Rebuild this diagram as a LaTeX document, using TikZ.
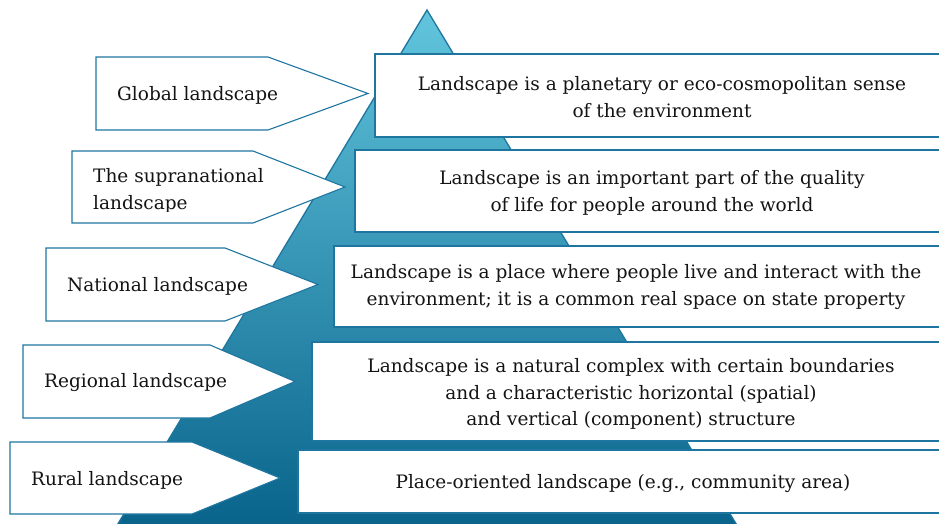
\documentclass[tikz,border=0pt]{standalone}
\usepackage{fontspec}
\setmainfont{DejaVu Serif}
\begin{document}
\begin{tikzpicture}[x=1pt,y=-1pt]
\definecolor{edgeblue}{RGB}{30,118,160}
\definecolor{topcyan}{RGB}{98,197,221}
\definecolor{botblue}{RGB}{8,98,138}
\definecolor{ink}{RGB}{20,20,20}
\tikzset{
  rbox/.style={draw=edgeblue, line width=1.4pt, fill=white},
  pentbox/.style={draw=edgeblue, line width=1.1pt, fill=white},
  ltext/.style={anchor=west, inner sep=0pt, text=ink, font=\fontsize{18.5}{26.5}\selectfont, align=left},
  rtext/.style={inner sep=0pt, text=ink, font=\fontsize{18.5}{26.5}\selectfont, align=center}
}
\useasboundingbox (0,0) rectangle (939,524);
\clip (0,0) rectangle (939,524);
% pyramid
\coordinate (apex) at (427,10);
\coordinate (bl) at (113,532);
\coordinate (br) at (741,532);
\draw[draw=edgeblue, line width=1.3pt, top color=topcyan, bottom color=botblue] (apex) -- (br) -- (bl) -- cycle;
% right boxes
\draw[rbox] (375,54) rectangle (950,137);
\draw[rbox] (355,150) rectangle (950,232);
\draw[rbox] (334,246) rectangle (950,327);
\draw[rbox] (312,342) rectangle (950,441);
\draw[rbox] (298,450) rectangle (950,513);
% left pentagons
\newcommand\pentagon[5]{\draw[pentbox] (#1,#2) -- (#4,#2) -- (#5,{(#2+#3)/2}) -- (#4,#3) -- (#1,#3) -- cycle;}
\pentagon{96}{57}{130}{268}{368}
\pentagon{72}{151}{223}{253}{345}
\pentagon{46}{248}{321}{225}{318}
\pentagon{23}{345}{418}{210}{295}
\pentagon{10}{442}{514}{192}{280}
% left labels
\node[ltext] (l1) at (117,95) {Global landscape};
\begin{scope}
\clip (72,151) rectangle (330,211);
\node[ltext] (l2) at (93,191) {The supranational\\landscape};
\end{scope}
\node[ltext] (l3) at (67,286) {National landscape};
\node[ltext] (l4) at (44,383) {Regional landscape};
\node[ltext] (l5) at (31,480) {Rural landscape};
% right texts
\node[rtext] (r1) at (662,97) {Landscape is a planetary or eco-cosmopolitan sense\\of the environment};
\node[rtext] (r2) at (652,193) {Landscape is an important part of the quality\\of life for people around the world};
\node[rtext] (r3) at (636,287) {Landscape is a place where people live and interact with the\\environment; it is a common real space on state property};
\node[rtext] (r4) at (631,394) {Landscape is a natural complex with certain boundaries\\and a characteristic horizontal (spatial)\\and vertical (component) structure};
\node[rtext] (r5) at (623,484) {Place-oriented landscape (e.g., community area)};
\end{tikzpicture}
\end{document}
